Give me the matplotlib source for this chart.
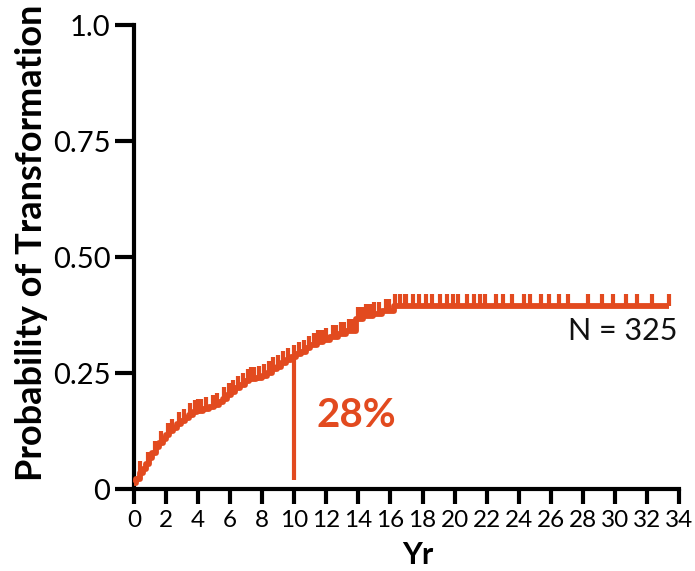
import numpy as np
import matplotlib
matplotlib.use("Agg")
import matplotlib.pyplot as plt
from matplotlib.path import Path

# ---- data ----
event_times = [0.0, 0.15, 0.35, 0.55, 0.75, 0.95, 1.15, 1.35, 1.55, 1.8,
               2.0, 2.2, 2.45, 2.7, 2.95, 3.2, 3.45, 3.7, 3.95, 4.3,
               4.7, 5.0, 5.3, 5.55, 5.8, 6.05, 6.3, 6.6, 6.9, 7.2,
               7.6, 8.0, 8.3, 8.6, 8.9, 9.2, 9.5, 9.8, 10.1, 10.4,
               10.7, 11.0, 11.4, 11.8, 12.2, 12.7, 13.2, 13.85, 14.3, 14.9,
               15.5, 16.2]
event_probs = [0.012, 0.022, 0.034, 0.044, 0.054, 0.066, 0.078, 0.090, 0.100, 0.108,
               0.116, 0.124, 0.132, 0.140, 0.147, 0.154, 0.160, 0.165, 0.169, 0.173,
               0.177, 0.181, 0.187, 0.195, 0.202, 0.210, 0.217, 0.225, 0.232, 0.237,
               0.240, 0.244, 0.251, 0.258, 0.264, 0.271, 0.277, 0.284, 0.290, 0.296,
               0.303, 0.310, 0.316, 0.322, 0.328, 0.334, 0.340, 0.366, 0.373, 0.378,
               0.383, 0.394]
end_time = 33.4
censor_times = [0.4, 0.9, 1.3, 1.7, 2.1, 2.4, 2.8, 3.1, 3.5, 3.8, 4.0, 4.2, 4.5,
                4.9, 5.2, 5.6, 5.9, 6.2, 6.5, 6.8, 7.1, 7.3, 7.5, 7.8, 8.1, 8.4,
                8.7, 9.0, 9.3, 9.6, 10.0, 10.3, 10.6, 10.9, 11.2, 11.5, 11.7, 12.0,
                12.4, 12.6, 12.9, 13.1, 13.4, 13.6, 14.0, 14.2, 14.5, 14.7, 15.0,
                15.3, 15.7, 15.9, 16.3, 16.6, 16.9, 17.0, 17.4, 17.8, 18.2, 18.6,
                19.1, 19.5, 19.9, 20.2, 20.8, 21.2, 21.6, 21.9, 22.6, 23.0, 23.6,
                24.3, 24.7, 25.4, 25.9, 26.5, 27.1, 28.3, 29.2, 29.9, 30.7, 31.4,
                32.3, 33.4]
marker_year = 10
marker_range = [0.02, 0.28]
marker_label = "28%"
n_label = "N = 325"
x_ticks = list(range(0, 35, 2))
y_ticks = [0, 0.25, 0.50, 0.75, 1.0]
y_ticklabels = ["0", "0.25", "0.50", "0.75", "1.0"]
x_label = "Yr"
y_label = "Probability of Transformation"

# ---- style ----
RED = "#E24A1F"
plt.rcParams["font.family"] = ["Lato", "DejaVu Sans"]

fig = plt.figure(figsize=(6.95, 5.71), dpi=100)
X0, X1, Y0, Y1 = 134, 679, 489, 25
ax = fig.add_axes([X0 / 695, 1 - Y0 / 571, (X1 - X0) / 695, (Y0 - Y1) / 571])

# step curve
xs = list(event_times) + [end_time]
ys = list(event_probs) + [event_probs[-1]]
ax.step(xs, ys, where="post", color=RED, lw=4.2, solid_capstyle="butt", clip_on=False, zorder=3)

# censor ticks (upward)
ct = np.array(censor_times)
idx = np.searchsorted(np.array(event_times), ct, side="right") - 1
cy = np.array(event_probs)[idx]
up_tick = Path([[0, 0], [0, 1]], [Path.MOVETO, Path.LINETO])
ax.plot(ct, cy, linestyle="none", marker=up_tick, markersize=17, markeredgewidth=3.0,
        color=RED, clip_on=False, zorder=3)

# 10-year marker
ax.plot([marker_year, marker_year], marker_range, color=RED, lw=3.0, solid_capstyle="butt", zorder=3)
ax.text(11.4, 0.158, marker_label, color=RED, fontsize=29, fontweight="bold",
        ha="left", va="center")
ax.text(33.9, 0.34, n_label, color="#111111", fontsize=22, ha="right", va="center")

ax.set_xlim(0, 34)
ax.set_ylim(0, 1)
ax.set_xticks(x_ticks)
ax.set_xticklabels([str(t) for t in x_ticks], fontsize=17.5)
ax.set_yticks(y_ticks)
ax.set_yticklabels(y_ticklabels, fontsize=21)
ax.tick_params(axis="x", direction="out", length=11, width=3, color="black", pad=4)
ax.tick_params(axis="y", direction="out", length=14, width=3, color="black", pad=3)
for s in ["top", "right"]:
    ax.spines[s].set_visible(False)
for s in ["left", "bottom"]:
    ax.spines[s].set_linewidth(3)
    ax.spines[s].set_capstyle("projecting")

ax.set_xlabel(x_label, fontsize=22, fontweight="bold")
ax.set_ylabel(y_label, fontsize=26, fontweight="bold")
ax.xaxis.set_label_coords(0.52, -0.113)
ax.yaxis.set_label_coords(-0.157, 0.53)

fig.savefig("out.png", dpi=100)
